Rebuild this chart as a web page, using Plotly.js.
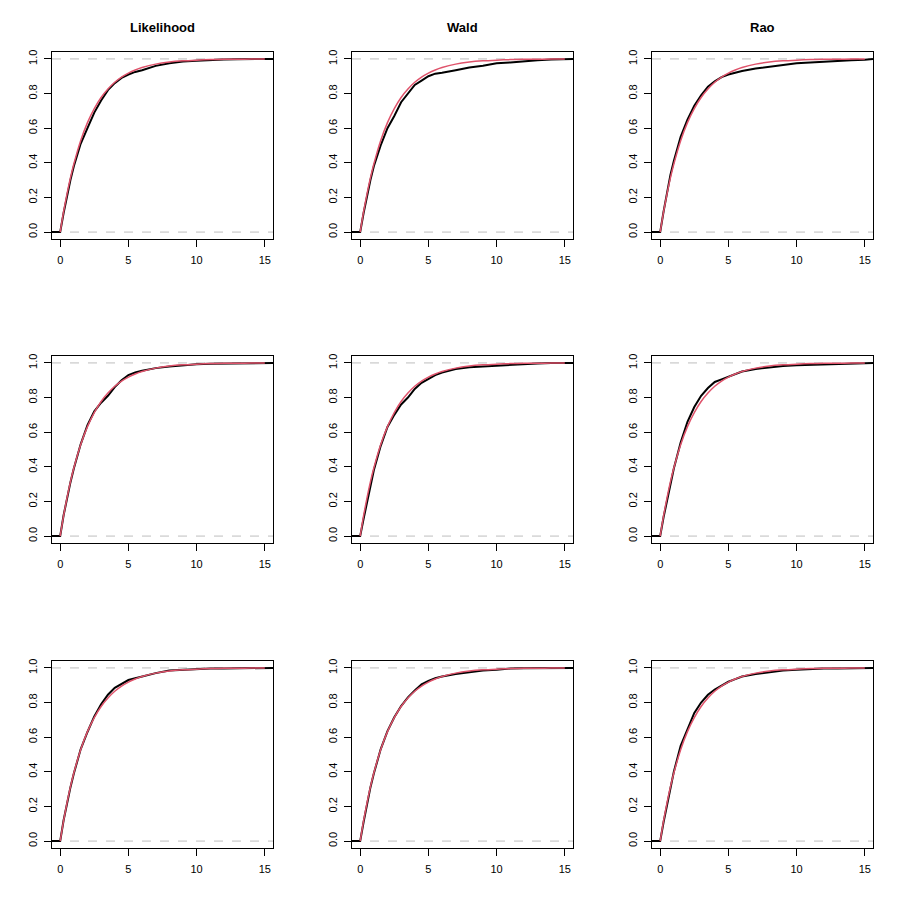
<!DOCTYPE html>
<html>
<head>
<meta charset="utf-8">
<script src="https://cdn.plot.ly/plotly-3.0.1.min.js"></script>
<style>
  html, body { margin: 0; padding: 0; background: #FFFFFF; }
  #chart { width: 900px; height: 913px; }
</style>
</head>
<body>
<div id="chart"></div>
<script>
// Column titles
const testNames = ['Likelihood', 'Wald', 'Rao'];

const gridX = [0, 0.25, 0.5, 0.75, 1, 1.5, 2, 2.5, 3, 3.5, 4, 4.5, 5, 5.5, 6, 7, 8, 9, 10, 11, 12, 13, 14, 15];

// red reference curve (same in every panel)
const refY = [0, 0.118, 0.221, 0.313, 0.393, 0.528, 0.632, 0.713, 0.777, 0.826, 0.865, 0.895, 0.918, 0.936, 0.95, 0.97, 0.982, 0.989, 0.993, 0.996, 0.998, 0.998, 0.999, 0.999];

// black empirical curves, row by row (Likelihood, Wald, Rao)
const ecdfLik1  = [0, 0.11, 0.21, 0.30, 0.38, 0.51, 0.60, 0.69, 0.76, 0.82, 0.86, 0.89, 0.91, 0.925, 0.935, 0.96, 0.975, 0.985, 0.99, 0.995, 0.997, 0.998, 0.999, 1];
const ecdfWald1 = [0, 0.11, 0.21, 0.30, 0.38, 0.50, 0.60, 0.67, 0.75, 0.80, 0.85, 0.875, 0.90, 0.915, 0.92, 0.935, 0.95, 0.96, 0.975, 0.98, 0.988, 0.992, 0.996, 0.998];
const ecdfRao1  = [0, 0.12, 0.23, 0.33, 0.41, 0.55, 0.65, 0.73, 0.79, 0.84, 0.87, 0.895, 0.91, 0.92, 0.93, 0.945, 0.955, 0.965, 0.975, 0.98, 0.985, 0.99, 0.993, 0.995];
const ecdfLik2  = [0, 0.12, 0.22, 0.31, 0.39, 0.53, 0.64, 0.72, 0.77, 0.81, 0.86, 0.90, 0.93, 0.945, 0.955, 0.97, 0.98, 0.987, 0.992, 0.995, 0.997, 0.998, 0.999, 1];
const ecdfWald2 = [0, 0.10, 0.20, 0.30, 0.38, 0.52, 0.63, 0.70, 0.76, 0.80, 0.85, 0.885, 0.91, 0.93, 0.945, 0.965, 0.975, 0.98, 0.985, 0.99, 0.995, 0.997, 0.999, 1];
const ecdfRao2  = [0, 0.11, 0.21, 0.31, 0.39, 0.54, 0.66, 0.745, 0.81, 0.855, 0.89, 0.905, 0.92, 0.935, 0.95, 0.965, 0.975, 0.982, 0.987, 0.99, 0.993, 0.995, 0.997, 0.998];
const ecdfLik3  = [0, 0.12, 0.22, 0.31, 0.39, 0.53, 0.63, 0.72, 0.79, 0.845, 0.885, 0.91, 0.93, 0.94, 0.95, 0.97, 0.985, 0.99, 0.993, 0.996, 0.997, 0.998, 0.999, 1];
const ecdfWald3 = [0, 0.11, 0.22, 0.31, 0.39, 0.53, 0.635, 0.715, 0.78, 0.83, 0.87, 0.905, 0.925, 0.94, 0.95, 0.965, 0.975, 0.985, 0.99, 0.997, 0.998, 0.999, 1, 1];
const ecdfRao3  = [0, 0.11, 0.21, 0.31, 0.40, 0.55, 0.65, 0.74, 0.80, 0.845, 0.875, 0.90, 0.92, 0.935, 0.95, 0.965, 0.975, 0.985, 0.99, 0.994, 0.996, 0.997, 0.998, 0.999];

const panels = [ecdfLik1, ecdfWald1, ecdfRao1, ecdfLik2, ecdfWald2, ecdfRao2, ecdfLik3, ecdfWald3, ecdfRao3];

const xTicks = [0, 5, 10, 15];
const yTicks = [0, 0.2, 0.4, 0.6, 0.8, 1];
const yTickText = ['0.0', '0.2', '0.4', '0.6', '0.8', '1.0'];

// panel boxes in pixels
const W = 900, H = 913;
const colPx = [[52, 273], [352, 573], [652, 873]];
const rowPx = [[52, 239], [356, 543], [661, 848]];
const xRange = [-0.6, 15.6];
const yRange = [-0.04, 1.04];

const FONT = 'Liberation Sans, Arial, Helvetica, sans-serif';
const RED = '#DF536B';

const data = [];
const layout = {
  width: W,
  height: H,
  margin: { l: 0, r: 0, t: 0, b: 0 },
  paper_bgcolor: '#FFFFFF',
  plot_bgcolor: '#FFFFFF',
  showlegend: false,
  font: { family: FONT, size: 11, color: '#000000' },
  shapes: [],
  annotations: []
};

panels.forEach((ys, i) => {
  const r = Math.floor(i / 3), c = i % 3;
  const n = i + 1;
  const xa = n === 1 ? 'x' : 'x' + n;
  const ya = n === 1 ? 'y' : 'y' + n;

  // empirical curve runs flat to the box edges
  data.push({
    x: [xRange[0]].concat(gridX, [xRange[1]]),
    y: [0].concat(ys, [1]),
    xaxis: xa, yaxis: ya,
    type: 'scatter', mode: 'lines',
    line: { color: '#000000', width: 2 },
    hoverinfo: 'skip'
  });
  data.push({
    x: gridX, y: refY,
    xaxis: xa, yaxis: ya,
    type: 'scatter', mode: 'lines',
    line: { color: RED, width: 1.5, shape: 'spline', smoothing: 0.6 },
    hoverinfo: 'skip'
  });

  const common = {
    showgrid: false,
    zeroline: false,
    showline: true,
    mirror: true,
    linecolor: '#000000',
    linewidth: 1,
    ticks: 'outside',
    ticklen: 7,
    tickwidth: 1,
    tickcolor: '#000000',
    tickfont: { family: FONT, size: 11, color: '#000000' },
    fixedrange: true
  };

  layout['xaxis' + (n === 1 ? '' : n)] = Object.assign({}, common, {
    domain: [colPx[c][0] / W, colPx[c][1] / W],
    anchor: ya,
    range: xRange,
    tickvals: xTicks,
    ticklabelstandoff: 4
  });
  layout['yaxis' + (n === 1 ? '' : n)] = Object.assign({}, common, {
    domain: [1 - rowPx[r][1] / H, 1 - rowPx[r][0] / H],
    anchor: xa,
    range: yRange,
    tickvals: yTicks,
    ticktext: yTickText,
    tickangle: -90,
    ticklabelstandoff: 3
  });

  // dashed guides at 0 and 1
  [0, 1].forEach(v => {
    layout.shapes.push({
      type: 'line', layer: 'below',
      xref: xa + ' domain', x0: 0, x1: 1,
      yref: ya, y0: v, y1: v,
      line: { color: '#BEBEBE', width: 1, dash: 'dash' }
    });
  });
});

testNames.forEach((name, c) => {
  layout.annotations.push({
    text: '<b>' + name + '</b>',
    xref: 'paper', yref: 'paper',
    x: (colPx[c][0] + colPx[c][1]) / 2 / W,
    y: 1 - 27 / H,
    xanchor: 'center', yanchor: 'middle',
    showarrow: false,
    font: { family: FONT, size: 13, color: '#000000' }
  });
});

Plotly.newPlot('chart', data, layout, { displayModeBar: false, staticPlot: true });
</script>
</body>
</html>
